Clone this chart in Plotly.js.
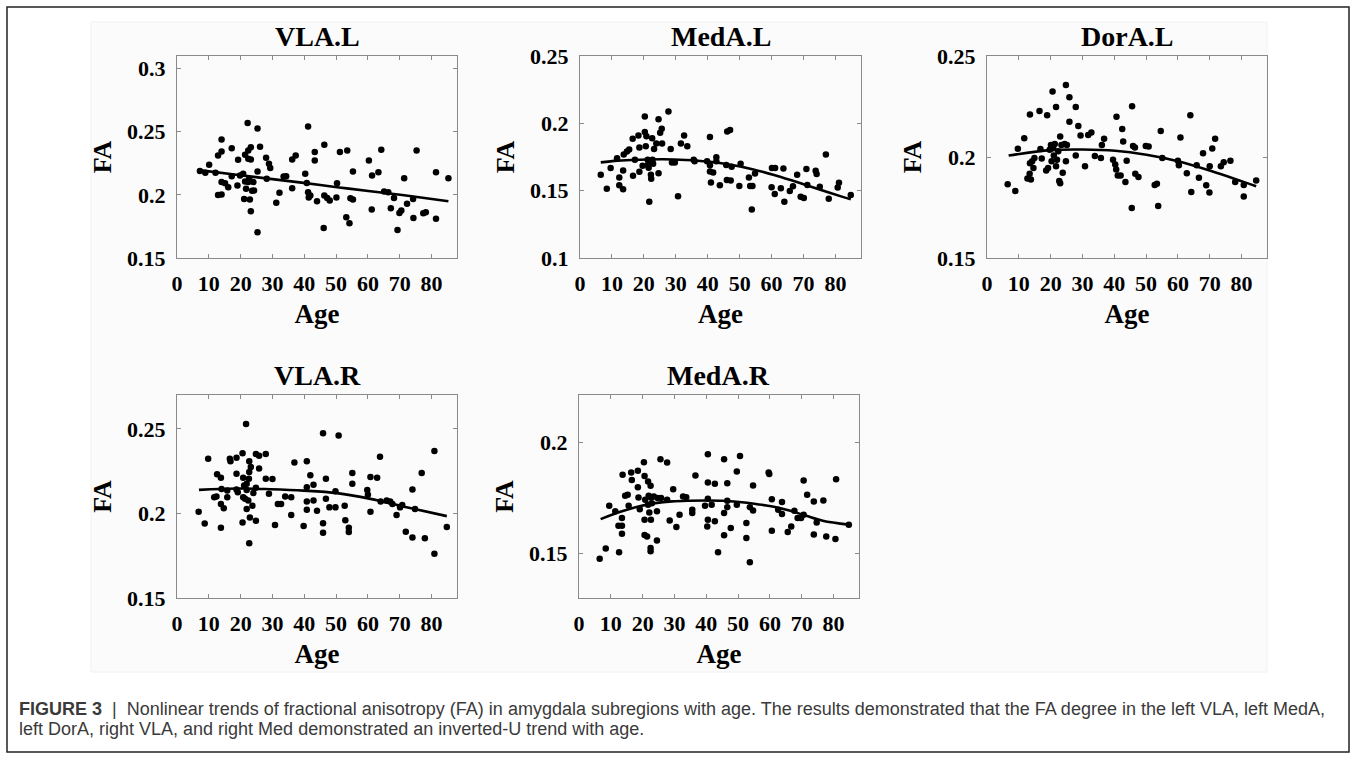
<!DOCTYPE html>
<html><head><meta charset="utf-8">
<script src="https://cdn.plot.ly/plotly-3.0.1.min.js"></script>
<style>html,body{margin:0;padding:0;background:#fff}#chart{width:1356px;height:761px}</style>
</head><body><div id="chart"></div>
<script>
// ---------- data ----------
const panelTitles = ["VLA.L", "MedA.L", "DorA.L", "VLA.R", "MedA.R"];
const xTickVals = [0, 10, 20, 30, 40, 50, 60, 70, 80];
const xTickText = ["0", "10", "20", "30", "40", "50", "60", "70", "80"];

const vlaL_age = [7.2,8.9,10.1,12.1,12.9,14.0,12.9,14.0,14.0,14.0,15.1,16.1,17.2,17.2,19.0,19.2,19.8,20.8,21.1,21.4,21.4,21.7,22.2,22.4,22.4,22.4,22.7,22.9,23.2,23.2,23.2,23.6,24.0,24.2,25.3,25.3,25.3,26.1,28.0,28.2,28.9,29.3,31.2,32.2,33.5,34.3,36.2,36.2,37.3,40.3,40.8,41.2,41.2,41.4,41.9,43.3,43.3,44.0,46.1,46.3,46.3,47.2,48.0,50.1,50.3,51.2,53.2,53.5,54.2,54.5,55.3,55.3,60.3,61.2,61.3,63.3,64.2,65.1,66.4,67.2,68.2,69.3,69.9,70.5,71.4,72.3,74.2,74.3,75.3,77.4,78.2,81.4,81.4,85.3];
const vlaL_fa = [0.2190,0.2175,0.2238,0.2175,0.2000,0.2003,0.2312,0.2344,0.2439,0.2101,0.2093,0.2061,0.2370,0.2148,0.2074,0.2278,0.2153,0.2167,0.1968,0.2318,0.2106,0.2048,0.2569,0.2352,0.2286,0.2101,0.2127,0.1963,0.2378,0.2280,0.1870,0.2032,0.2101,0.2034,0.2526,0.2185,0.1704,0.2381,0.2294,0.2127,0.2246,0.2212,0.1937,0.2016,0.2146,0.2148,0.2053,0.2280,0.2312,0.2167,0.2095,0.2542,0.2021,0.1979,0.1995,0.2272,0.2339,0.1950,0.1738,0.2397,0.1995,0.1976,0.1955,0.1979,0.2093,0.2339,0.1823,0.2352,0.1775,0.1974,0.1963,0.2185,0.2272,0.1884,0.2153,0.2180,0.2357,0.2026,0.2021,0.1894,0.1976,0.1722,0.1857,0.1876,0.2132,0.1929,0.1968,0.1817,0.2352,0.1854,0.1862,0.2180,0.1810,0.2132];
const vlaL_fitAge = [6.9,18.7,29.3,39.8,50.3,60.8,71.4,85.3];
const vlaL_fitFa = [0.2196,0.2159,0.2127,0.2095,0.2061,0.2029,0.1997,0.1950];

const medAL_age = [6.5,8.4,9.6,11.6,12.3,12.3,13.5,13.5,13.7,14.7,15.4,16.5,16.6,17.2,18.3,18.6,18.6,19.6,20.3,20.3,20.6,20.8,21.2,21.2,21.5,21.7,22.0,22.2,22.3,22.6,22.7,22.9,23.2,23.9,24.6,24.6,25.1,25.6,25.7,27.7,28.4,28.8,29.7,30.7,31.6,32.6,33.6,35.6,35.9,39.8,40.7,40.7,40.7,41.0,41.7,42.7,42.7,43.8,45.8,46.0,46.1,47.0,47.2,47.5,49.9,50.3,52.9,53.3,53.8,54.0,54.8,60.0,60.1,61.0,61.1,62.9,63.7,64.0,65.7,66.7,68.0,69.1,70.1,70.9,71.2,73.8,74.1,75.1,77.0,77.9,80.7,81.1,84.8];
const medAL_fa = [0.1618,0.1515,0.1668,0.1740,0.1598,0.1540,0.1510,0.1650,0.1768,0.1790,0.1805,0.1885,0.1610,0.1730,0.1910,0.1820,0.1640,0.1685,0.2050,0.1935,0.1830,0.1905,0.1730,0.1690,0.1670,0.1418,0.1705,0.1618,0.1588,0.1890,0.1730,0.1700,0.1810,0.1850,0.2030,0.1630,0.1930,0.1960,0.1850,0.2088,0.1810,0.1710,0.1710,0.1458,0.1850,0.1910,0.1830,0.1730,0.1718,0.1718,0.1898,0.1688,0.1643,0.1560,0.1635,0.1748,0.1718,0.1540,0.1690,0.1580,0.1940,0.1950,0.1575,0.1678,0.1535,0.1700,0.1598,0.1535,0.1360,0.1535,0.1628,0.1525,0.1668,0.1475,0.1668,0.1518,0.1665,0.1418,0.1498,0.1533,0.1618,0.1455,0.1445,0.1660,0.1543,0.1648,0.1623,0.1530,0.1768,0.1440,0.1523,0.1558,0.1468];
const medAL_fitAge = [6.5,11.8,18.9,26.0,33.1,40.1,47.2,54.3,61.3,68.4,75.5,82.5,84.8];
const medAL_fitFa = [0.1710,0.1723,0.1730,0.1733,0.1728,0.1716,0.1693,0.1658,0.1612,0.1560,0.1505,0.1452,0.1436];

const dorAL_age = [6.5,8.9,9.7,11.7,12.7,13.4,13.5,13.5,13.8,14.2,14.6,14.9,16.5,16.8,17.2,18.6,18.9,19.2,19.7,20.1,20.3,20.6,20.8,21.0,21.3,21.7,21.7,22.0,22.4,22.7,23.0,23.0,23.4,23.8,24.4,24.8,24.8,25.1,25.9,25.9,27.9,27.9,28.7,29.4,30.8,31.8,32.8,33.9,35.8,36.1,36.8,39.6,40.3,40.6,40.7,41.1,42.0,42.5,42.8,43.5,43.9,45.5,45.6,45.9,46.5,46.6,47.6,49.9,50.8,52.7,53.4,53.8,54.6,55.1,60.0,60.3,60.8,62.8,63.9,64.2,65.9,66.6,67.9,68.9,69.9,70.0,70.8,71.7,73.5,74.4,76.5,78.0,80.7,80.7,84.6];
const dorAL_fa = [0.1865,0.1832,0.2041,0.2093,0.1894,0.1917,0.2210,0.1969,0.1889,0.1979,0.1946,0.1995,0.2228,0.2039,0.1992,0.1933,0.2207,0.1946,0.2036,0.2060,0.1979,0.2324,0.2044,0.2007,0.2064,0.2248,0.1954,0.1987,0.2028,0.1881,0.1870,0.2101,0.2060,0.1922,0.2064,0.2357,0.1979,0.2060,0.2296,0.2174,0.2248,0.2008,0.2153,0.2106,0.1954,0.2109,0.2121,0.2005,0.1995,0.2060,0.2090,0.1987,0.1963,0.1938,0.2199,0.1909,0.1909,0.2138,0.2077,0.1876,0.1982,0.1748,0.2251,0.2055,0.2047,0.1917,0.1901,0.2055,0.2052,0.1862,0.1868,0.1757,0.2129,0.1995,0.1982,0.1959,0.2096,0.1920,0.2207,0.1827,0.1959,0.1897,0.2018,0.1860,0.1824,0.1954,0.2042,0.2090,0.1954,0.1974,0.1982,0.1876,0.1862,0.1805,0.1884];
const dorAL_fitAge = [6.8,20.0,29.9,40.3,50.1,60.0,70.0,80.4,84.6];
const dorAL_fitFa = [0.2007,0.2034,0.2037,0.2031,0.2011,0.1979,0.1933,0.1878,0.1855];

const vlaR_age = [6.8,8.7,9.8,12.6,13.8,13.8,11.7,12.4,13.8,14.7,14.0,15.8,15.8,16.6,16.8,18.7,18.7,18.7,19.1,20.6,20.6,20.8,20.8,21.1,21.4,21.7,21.9,21.9,21.9,22.4,22.6,22.7,22.7,22.9,22.7,23.2,23.7,24.0,24.8,24.8,24.8,25.8,25.8,27.9,27.9,28.9,30.0,30.8,31.7,32.7,34.0,35.9,35.9,36.9,39.8,40.8,40.8,40.8,40.8,41.9,42.9,42.9,44.0,45.9,45.9,45.9,46.8,46.8,47.9,49.8,49.8,50.8,52.7,52.9,54.0,54.0,55.1,55.1,59.8,60.0,60.8,60.8,62.9,63.8,64.0,65.9,67.0,67.7,69.0,70.1,70.8,71.9,74.0,74.0,74.8,76.9,77.9,80.9,80.9,84.8];
const vlaR_fa = [0.2010,0.1940,0.2323,0.2231,0.2211,0.1916,0.2096,0.2100,0.2056,0.2030,0.2145,0.2096,0.2135,0.2323,0.2309,0.2329,0.2235,0.2141,0.2125,0.1946,0.2355,0.2211,0.2096,0.2165,0.2086,0.2528,0.2175,0.2139,0.2026,0.2076,0.2205,0.2309,0.2245,0.1976,0.1823,0.2275,0.2046,0.2120,0.1956,0.2151,0.2351,0.2341,0.2265,0.2351,0.2205,0.2116,0.2203,0.1932,0.2056,0.2056,0.2100,0.2096,0.1990,0.2301,0.1926,0.2309,0.2155,0.2070,0.2022,0.2225,0.2169,0.2076,0.2016,0.2474,0.1942,0.1886,0.2205,0.2086,0.2036,0.2036,0.2131,0.2460,0.2046,0.1960,0.1916,0.1890,0.2239,0.2175,0.2139,0.2110,0.2215,0.2010,0.2211,0.2335,0.2070,0.2076,0.2070,0.2056,0.1990,0.2036,0.2050,0.1892,0.2141,0.1857,0.2026,0.2239,0.1853,0.2369,0.1761,0.1920];
const vlaR_fitAge = [6.9,18.7,29.3,39.8,50.3,60.8,71.4,84.8];
const vlaR_fitFa = [0.2139,0.2147,0.2143,0.2135,0.2120,0.2086,0.2040,0.1984];

const medAR_age = [6.5,8.4,9.5,11.4,12.4,12.6,13.5,13.5,13.5,13.7,14.5,15.3,15.6,16.4,16.6,18.5,18.5,18.7,19.1,20.4,20.6,20.8,20.6,20.6,21.4,21.7,21.7,21.9,22.1,22.5,22.5,22.5,22.6,22.6,22.9,23.5,24.5,24.5,24.7,25.6,25.8,27.7,27.7,28.5,29.6,30.6,31.6,32.7,33.7,35.6,35.6,36.6,39.6,40.3,40.5,40.5,40.5,40.5,41.7,42.7,42.7,43.7,45.6,45.6,45.6,46.6,46.6,46.6,47.7,49.6,49.6,50.6,52.6,52.6,53.7,53.7,54.7,54.7,59.6,59.8,60.6,60.6,62.6,63.8,63.8,65.6,66.7,67.7,68.7,69.8,70.6,70.6,71.7,73.8,73.8,74.7,76.8,77.7,80.6,80.8,84.8];
const medAR_fa = [0.1474,0.1520,0.1713,0.1688,0.1623,0.1503,0.1658,0.1623,0.1587,0.1853,0.1758,0.1763,0.1713,0.1863,0.1830,0.1871,0.1797,0.1751,0.1698,0.1910,0.1848,0.1740,0.1650,0.1581,0.1575,0.1823,0.1718,0.1758,0.1683,0.1803,0.1508,0.1523,0.1650,0.1751,0.1725,0.1755,0.1688,0.1556,0.1748,0.1923,0.1748,0.1908,0.1740,0.1647,0.1788,0.1617,0.1673,0.1755,0.1752,0.1695,0.1680,0.1850,0.1713,0.1620,0.1946,0.1818,0.1745,0.1650,0.1718,0.1812,0.1643,0.1503,0.1923,0.1680,0.1580,0.1815,0.1736,0.1707,0.1613,0.1868,0.1718,0.1938,0.1635,0.1568,0.1458,0.1707,0.1805,0.1692,0.1863,0.1856,0.1743,0.1601,0.1695,0.1730,0.1676,0.1595,0.1620,0.1691,0.1658,0.1658,0.1827,0.1673,0.1763,0.1733,0.1583,0.1638,0.1737,0.1575,0.1563,0.1833,0.1628];
const medAR_fitAge = [6.8,13.5,18.7,24.0,29.3,34.5,39.8,45.1,50.3,55.6,60.8,66.1,71.4,76.6,84.8];
const medAR_fitFa = [0.1653,0.1688,0.1710,0.1725,0.1733,0.1736,0.1737,0.1736,0.1730,0.1721,0.1710,0.1692,0.1668,0.1646,0.1628];

const yRanges = [[0.15,0.31],[0.10,0.25],[0.15,0.25],[0.15,0.27],[0.1297,0.2213]];
const yTickVals = [[0.15,0.2,0.25,0.3],[0.1,0.15,0.2,0.25],[0.15,0.2,0.25],[0.15,0.2,0.25],[0.15,0.2]];
const yTickText = [["0.15","0.2","0.25","0.3"],["0.1","0.15","0.2","0.25"],["0.15","0.2","0.25"],["0.15","0.2","0.25"],["0.15","0.2"]];

// ---------- layout geometry (pixels) ----------
const W = 1356, H = 761;
const boxes = [
  {l:177, r:457, t:56, b:258},
  {l:580, r:861, t:56, b:258},
  {l:987, r:1267, t:56, b:258},
  {l:177, r:457, t:395, b:598},
  {l:579, r:859, t:395, b:598}
];
const series = [
  [vlaL_age, vlaL_fa, vlaL_fitAge, vlaL_fitFa],
  [medAL_age, medAL_fa, medAL_fitAge, medAL_fitFa],
  [dorAL_age, dorAL_fa, dorAL_fitAge, dorAL_fitFa],
  [vlaR_age, vlaR_fa, vlaR_fitAge, vlaR_fitFa],
  [medAR_age, medAR_fa, medAR_fitAge, medAR_fitFa]
];

const serif = "Liberation Serif, Times New Roman, serif";
const axisCol = "#8a8a8a";
const traces = [];
const layout = {
  width: W, height: H,
  margin: {l:0, r:0, t:0, b:0},
  paper_bgcolor: "#ffffff",
  plot_bgcolor: "#ffffff",
  showlegend: false,
  font: {family: serif, color: "#000"},
  annotations: [],
  shapes: [
    {type:"rect", xref:"paper", yref:"paper", x0:7/W, x1:1349/W, y0:1-752/H, y1:1-7/H,
     line:{color:"#222", width:1.5}, fillcolor:"rgba(0,0,0,0)", layer:"below"},
    {type:"rect", xref:"paper", yref:"paper", x0:91/W, x1:1267/W, y0:1-672/H, y1:1-22/H,
     line:{color:"#f1f1f1", width:1}, fillcolor:"#fbfbfb", layer:"below"}
  ]
};

boxes.forEach((bx, i) => {
  const n = i + 1;
  const xa = "x" + (n === 1 ? "" : n), ya = "y" + (n === 1 ? "" : n);
  const [ages, fa, fitA, fitF] = series[i];
  traces.push({type:"scatter", mode:"markers", x:ages, y:fa, xaxis:xa, yaxis:ya,
    marker:{color:"#000", size:6.5}, hoverinfo:"x+y"});
  traces.push({type:"scatter", mode:"lines", x:fitA, y:fitF, xaxis:xa, yaxis:ya,
    line:{color:"#000", width:2.6, shape:"spline", smoothing:1.0}, hoverinfo:"skip"});
  const common = {
    showline:true, mirror:"ticks", linecolor:axisCol, linewidth:1,
    ticks:"inside", ticklen:4, tickwidth:1, tickcolor:axisCol,
    showgrid:false, zeroline:false, fixedrange:true,
    tickfont:{family:serif, size:22, color:"#000", weight:"bold"}
  };
  layout["xaxis" + (n === 1 ? "" : n)] = Object.assign({}, common, {
    domain:[bx.l/W, bx.r/W], anchor:ya, range:[0, 88],
    tickmode:"array", tickvals:xTickVals, ticktext:xTickText, ticklabelstandoff:6,
    title:{text:"<b>Age</b>", font:{family:serif, size:27, color:"#000"}, standoff:8}
  });
  layout["yaxis" + (n === 1 ? "" : n)] = Object.assign({}, common, {
    domain:[1 - bx.b/H, 1 - bx.t/H], anchor:xa, range:yRanges[i],
    tickmode:"array", tickvals:yTickVals[i], ticktext:yTickText[i], ticklabelstandoff:6,
    title:{text:"<b>FA</b>", font:{family:serif, size:26, color:"#000"}, standoff:7}
  });
  layout.annotations.push({
    xref:"paper", yref:"paper", x:(bx.l + bx.r)/2/W, y:1 - (bx.t - 2)/H,
    xanchor:"center", yanchor:"bottom", showarrow:false,
    text:"<b>" + panelTitles[i] + "</b>", font:{family:serif, size:28, color:"#000"}
  });
});

const captionLines = [
  "<b>FIGURE 3</b>  |  Nonlinear trends of fractional anisotropy (FA) in amygdala subregions with age. The results demonstrated that the FA degree in the left VLA, left MedA,",
  "left DorA, right VLA, and right Med demonstrated an inverted-U trend with age."
];
captionLines.forEach((t, k) => {
  layout.annotations.push({
    xref:"paper", yref:"paper", x:17/W, y:1 - (709 + 20*k)/H,
    xanchor:"left", yanchor:"middle", showarrow:false, align:"left",
    text:t, font:{family:"Liberation Sans, Arial, sans-serif", size:18, color:"#3a3a3a"}
  });
});

Plotly.newPlot("chart", traces, layout, {displayModeBar:false, staticPlot:true});
</script>
</body></html>
